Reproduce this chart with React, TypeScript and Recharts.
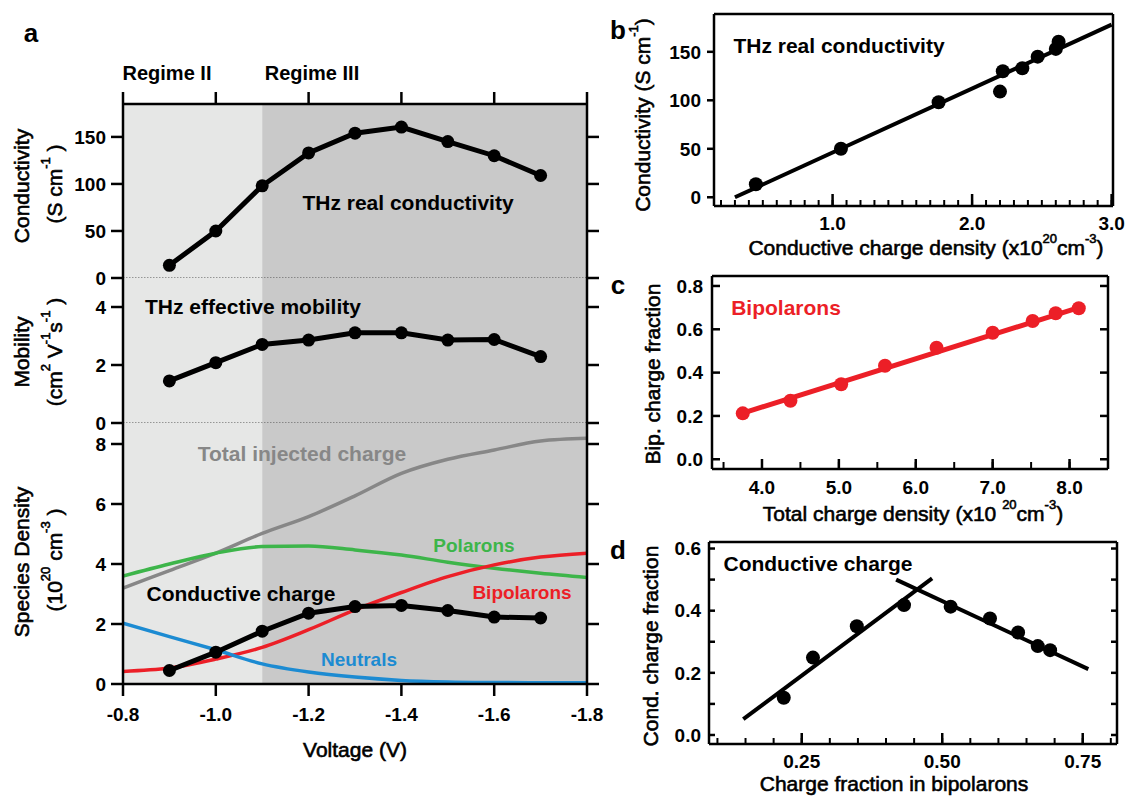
import React from 'react';
import {
  ComposedChart,
  Line,
  Scatter,
  XAxis,
  YAxis,
  ReferenceArea,
  ReferenceLine,
} from 'recharts';

const W = 1129;
const H = 796;
const FONT = '"Liberation Sans", Arial, Helvetica, sans-serif';

// ---- panel a: voltage sweep ----
const voltages = [-0.8, -0.9, -1.0, -1.1, -1.2, -1.3, -1.4, -1.5, -1.6, -1.7, -1.8];
const measuredVoltages = [-0.9, -1.0, -1.1, -1.2, -1.3, -1.4, -1.5, -1.6, -1.7];
const conductivity = [13.5, 50, 98, 133, 154, 160.5, 145, 130, 109];
const mobility = [1.45, 2.08, 2.71, 2.86, 3.11, 3.11, 2.86, 2.88, 2.29];
const conductiveCharge = [0.45, 1.06, 1.76, 2.36, 2.58, 2.62, 2.45, 2.23, 2.2];
const totalCharge = [3.2, 3.78, 4.36, 5.02, 5.58, 6.27, 7.02, 7.49, 7.8, 8.1, 8.19];
const polarons = [3.6, 4.0, 4.36, 4.58, 4.6, 4.47, 4.3, 4.06, 3.86, 3.69, 3.55];
const bipolarons = [0.42, 0.53, 0.83, 1.22, 1.81, 2.47, 3.05, 3.58, 3.97, 4.23, 4.36];
const neutrals = [2.03, 1.58, 1.14, 0.67, 0.4, 0.23, 0.12, 0.07, 0.05, 0.04, 0.04];
const regimeEdges = [-0.8, -1.1, -1.8];
const voltageTicks = [-0.8, -1.0, -1.2, -1.4, -1.6, -1.8];
const conductivityTicks = [0, 50, 100, 150];
const mobilityTicks = [0, 2, 4];
const speciesTicks = [0, 2, 4, 6, 8];

// ---- panel b: conductivity vs conductive charge ----
const bChargeDensity = [0.45, 1.06, 1.76, 2.2, 2.22, 2.36, 2.47, 2.6, 2.62];
const bConductivity = [13.5, 50, 98, 109, 130, 133, 145, 153, 160.5];
const bFitDensity = [0.3, 3.0];
const bFitConductivity = [0, 178];
const bTicksX = [1, 2, 3];
const bTicksY = [0, 50, 100, 150];

// ---- panel c: bipolaron fraction vs total charge ----
const cTotalDensity = [3.75, 4.37, 5.03, 5.6, 6.27, 7.0, 7.52, 7.82, 8.12];
const cBipFraction = [0.212, 0.27, 0.346, 0.432, 0.515, 0.584, 0.638, 0.674, 0.697];
const cFitDensity = [3.75, 8.12];
const cFitFraction = [0.213, 0.7];
const cTicksX = [4, 5, 6, 7, 8];
const cTicksY = [0, 0.2, 0.4, 0.6, 0.8];

// ---- panel d: conductive fraction vs bipolaron fraction ----
const dBipFraction = [0.218, 0.27, 0.348, 0.432, 0.515, 0.585, 0.635, 0.67, 0.692];
const dCondFraction = [0.12, 0.249, 0.35, 0.418, 0.413, 0.375, 0.33, 0.286, 0.273];
const dRiseX = [0.146, 0.482];
const dRiseY = [0.051, 0.504];
const dFallX = [0.418, 0.76];
const dFallY = [0.5, 0.212];
const dTicksX = [0.25, 0.5, 0.75];
const dTicksY = [0, 0.2, 0.4, 0.6];

const steps = (from: number, to: number, step: number) => {
  const out: number[] = [];
  for (let v = from; v <= to + step / 2; v += step) out.push(Math.round(v * 1000) / 1000);
  return out;
};

const measuredRows = measuredVoltages.map((v, i) => ({
  v,
  conductivity: conductivity[i],
  mobility: mobility[i],
  conductive: conductiveCharge[i],
}));
const speciesRows = voltages.map((v, i) => ({
  v,
  total: totalCharge[i],
  polarons: polarons[i],
  bipolarons: bipolarons[i],
  neutrals: neutrals[i],
}));
const pairs = (xs: number[], ys: number[]) => xs.map((x, i) => ({ x, y: ys[i] }));

// styles
const LIGHT = '#e6e7e6';
const DARK = '#c9c9c9';
const GRAY = '#878787';
const GREEN = '#3db54a';
const RED = '#ec1f27';
const BLUE = '#1c8bd2';
const axisLine = { stroke: '#000', strokeWidth: 2.5 };
const tickLine = { stroke: '#000', strokeWidth: 2.5 };
const tickText = { fill: '#000', fontSize: 19, fontWeight: 700, fontFamily: FONT };
const blackDot = { r: 6.5, fill: '#000', stroke: '#000', strokeWidth: 0 };
const fix1 = (v: number) => v.toFixed(1);
const fix2 = (v: number) => v.toFixed(2);
const noLabel = () => '';

// plot rectangles of the small panels, in page pixels
type Rect = { l: number; t: number; r: number; b: number };
type Dom = { x: number[]; y: number[] };
const rectB: Rect = { l: 714, t: 14, r: 1113, b: 206 };
const rectC: Rect = { l: 712, t: 276, r: 1108, b: 469 };
const rectD: Rect = { l: 709, t: 542, r: 1117, b: 744 };
const domB: Dom = { x: [0.15, 3.01], y: [-9, 189] };
const domC: Dom = { x: [3.35, 8.5], y: [-0.045, 0.846] };
const domD: Dom = { x: [0.085, 0.811], y: [-0.029, 0.621] };

const frameMargin = (rect: Rect) => ({ left: rect.l - 60, right: W - rect.r, top: rect.t - 1, bottom: H - rect.b - 40 });

// inward tick marks as short reference segments; length given in pixels
const inTicks = (rect: Rect, dom: Dom, side: 'bottom' | 'left' | 'right', values: number[], len: number, width = 2.5) => {
  const dx = (len * (dom.x[1] - dom.x[0])) / (rect.r - rect.l);
  const dy = (len * (dom.y[1] - dom.y[0])) / (rect.b - rect.t);
  return values.map((v) => {
    const seg =
      side === 'bottom'
        ? [{ x: v, y: dom.y[0] }, { x: v, y: dom.y[0] + dy }]
        : side === 'left'
          ? [{ x: dom.x[0], y: v }, { x: dom.x[0] + dx, y: v }]
          : [{ x: dom.x[1], y: v }, { x: dom.x[1] - dx, y: v }];
    return <ReferenceLine key={`${side}-${v}-${len}`} segment={seg} stroke="#000" strokeWidth={width} ifOverflow="visible" />;
  });
};

const dotShape = (color: string, r: number) => (p: any) =>
  <circle cx={p.cx} cy={p.cy} r={r} fill={color} />;

const Layer: React.FC<{ children: React.ReactNode }> = ({ children }) => (
  <div style={{ position: 'absolute', left: 0, top: 0 }}>{children}</div>
);

const shading = [
  <ReferenceArea key="r2" x1={regimeEdges[0]} x2={regimeEdges[1]} fill={LIGHT} fillOpacity={1} stroke="none" />,
  <ReferenceArea key="r3" x1={regimeEdges[1]} x2={regimeEdges[2]} fill={DARK} fillOpacity={1} stroke="none" />,
];

const ConductivityPanel = () => (
  <ComposedChart width={W} height={H} data={measuredRows} margin={{ left: 63, right: 522, top: 84, bottom: 518 }}>
    <XAxis dataKey="v" type="number" domain={[-1.8, -0.8]} reversed allowDataOverflow orientation="top" height={20}
      ticks={voltageTicks} interval={0} tickFormatter={noLabel} tickSize={12} axisLine={axisLine} tickLine={tickLine} />
    <YAxis type="number" domain={[0, 185]} allowDataOverflow ticks={conductivityTicks} interval={0} width={60}
      tickSize={12} tickMargin={5} tick={tickText} axisLine={axisLine} tickLine={tickLine} />
    <YAxis yAxisId="right" orientation="right" type="number" domain={[0, 185]} allowDataOverflow ticks={conductivityTicks}
      interval={0} width={20} tickSize={12} tickFormatter={noLabel} axisLine={axisLine} tickLine={tickLine} />
    {shading}
    <ReferenceLine y={0} stroke="#444" strokeWidth={1} strokeDasharray="1.5 1.5" />
    <Line dataKey="conductivity" stroke="#000" strokeWidth={5} dot={blackDot} isAnimationActive={false} />
  </ComposedChart>
);

const MobilityPanel = () => (
  <ComposedChart width={W} height={H} data={measuredRows} margin={{ left: 63, right: 522, top: 278, bottom: 373 }}>
    <XAxis dataKey="v" type="number" domain={[-1.8, -0.8]} reversed allowDataOverflow hide />
    <YAxis type="number" domain={[0, 5]} allowDataOverflow ticks={mobilityTicks} interval={0} width={60}
      tickSize={12} tickMargin={5} tick={tickText} axisLine={axisLine} tickLine={tickLine} />
    <YAxis yAxisId="right" orientation="right" type="number" domain={[0, 5]} allowDataOverflow ticks={mobilityTicks}
      interval={0} width={20} tickSize={12} tickFormatter={noLabel} axisLine={axisLine} tickLine={tickLine} />
    {shading}
    <ReferenceLine y={0} stroke="#444" strokeWidth={1} strokeDasharray="1.5 1.5" />
    <Line dataKey="mobility" stroke="#000" strokeWidth={5} dot={blackDot} isAnimationActive={false} />
  </ComposedChart>
);

const SpeciesPanel = () => (
  <ComposedChart width={W} height={H} data={speciesRows} margin={{ left: 63, right: 522, top: 423, bottom: 72 }}>
    <XAxis dataKey="v" type="number" domain={[-1.8, -0.8]} reversed allowDataOverflow height={40}
      ticks={voltageTicks} interval={0} tickFormatter={fix1} tickSize={12} tickMargin={12}
      tick={tickText} axisLine={axisLine} tickLine={tickLine} />
    <YAxis type="number" domain={[0, 8.7]} allowDataOverflow ticks={speciesTicks} interval={0} width={60}
      tickSize={12} tickMargin={5} tick={tickText} axisLine={axisLine} tickLine={tickLine} />
    <YAxis yAxisId="right" orientation="right" type="number" domain={[0, 8.7]} allowDataOverflow ticks={speciesTicks}
      interval={0} width={20} tickSize={12} tickFormatter={noLabel} axisLine={axisLine} tickLine={tickLine} />
    {shading}
    <Line type="monotone" dataKey="total" stroke={GRAY} strokeWidth={3.5} dot={false} isAnimationActive={false} />
    <Line type="monotone" dataKey="polarons" stroke={GREEN} strokeWidth={3.5} dot={false} isAnimationActive={false} />
    <Line type="monotone" dataKey="bipolarons" stroke={RED} strokeWidth={3.5} dot={false} isAnimationActive={false} />
    <Line type="monotone" dataKey="neutrals" stroke={BLUE} strokeWidth={3.5} dot={false} isAnimationActive={false} />
    <Line data={measuredRows} dataKey="conductive" stroke="#000" strokeWidth={5} dot={blackDot} isAnimationActive={false} />
  </ComposedChart>
);

const PanelB = () => (
  <ComposedChart width={W} height={H} margin={frameMargin(rectB)}>
    <XAxis dataKey="x" type="number" domain={domB.x} allowDataOverflow height={40} ticks={bTicksX}
      interval={0} tickFormatter={fix1} tickSize={0} tickMargin={11} tickLine={false} axisLine={axisLine} tick={tickText} />
    <XAxis xAxisId="top" orientation="top" type="number" domain={domB.x} allowDataOverflow height={1}
      tick={false} tickLine={false} axisLine={axisLine} />
    <YAxis dataKey="y" type="number" domain={domB.y} allowDataOverflow ticks={bTicksY} interval={0} width={60}
      tickSize={7} tickMargin={6} tick={tickText} axisLine={axisLine} tickLine={tickLine} />
    <YAxis yAxisId="right" orientation="right" mirror type="number" domain={domB.y} allowDataOverflow width={1}
      tick={false} tickLine={false} axisLine={axisLine} />
    {inTicks(rectB, domB, 'bottom', steps(0.2, 3.0, 0.1), 6, 2)}
    {inTicks(rectB, domB, 'bottom', bTicksX, 12)}
    <Line data={pairs(bFitDensity, bFitConductivity)} dataKey="y" stroke="#000" strokeWidth={4} dot={false} isAnimationActive={false} />
    <Scatter data={pairs(bChargeDensity, bConductivity)} dataKey="y" shape={dotShape('#000', 7)} isAnimationActive={false} />
  </ComposedChart>
);

const PanelC = () => (
  <ComposedChart width={W} height={H} margin={frameMargin(rectC)}>
    <XAxis dataKey="x" type="number" domain={domC.x} allowDataOverflow height={40} ticks={cTicksX}
      interval={0} tickFormatter={fix1} tickSize={0} tickMargin={12} tickLine={false} axisLine={axisLine} tick={tickText} />
    <XAxis xAxisId="top" orientation="top" type="number" domain={domC.x} allowDataOverflow height={1}
      tick={false} tickLine={false} axisLine={axisLine} />
    <YAxis dataKey="y" type="number" domain={domC.y} allowDataOverflow ticks={cTicksY} interval={0} width={60}
      tickFormatter={fix1} tickSize={0} tickMargin={9} tickLine={false} axisLine={axisLine} tick={tickText} />
    <YAxis yAxisId="right" orientation="right" mirror type="number" domain={domC.y} allowDataOverflow width={1}
      tick={false} tickLine={false} axisLine={axisLine} />
    {inTicks(rectC, domC, 'bottom', steps(3.5, 8.5, 0.5), 7, 2)}
    {inTicks(rectC, domC, 'bottom', cTicksX, 10)}
    {inTicks(rectC, domC, 'left', cTicksY, 8)}
    {inTicks(rectC, domC, 'right', cTicksY, 8)}
    <Line data={pairs(cFitDensity, cFitFraction)} dataKey="y" stroke={RED} strokeWidth={5} dot={false} isAnimationActive={false} />
    <Scatter data={pairs(cTotalDensity, cBipFraction)} dataKey="y" shape={dotShape(RED, 7)} isAnimationActive={false} />
  </ComposedChart>
);

const PanelD = () => (
  <ComposedChart width={W} height={H} margin={frameMargin(rectD)}>
    <XAxis dataKey="x" type="number" domain={domD.x} allowDataOverflow height={40} ticks={dTicksX}
      interval={0} tickFormatter={fix2} tickSize={0} tickMargin={11} tickLine={false} axisLine={axisLine} tick={tickText} />
    <XAxis xAxisId="top" orientation="top" type="number" domain={domD.x} allowDataOverflow height={1}
      tick={false} tickLine={false} axisLine={axisLine} />
    <YAxis dataKey="y" type="number" domain={domD.y} allowDataOverflow ticks={dTicksY} interval={0}
      width={60} tickFormatter={fix1} tickSize={0} tickMargin={8} tickLine={false} axisLine={axisLine} tick={tickText} />
    <YAxis yAxisId="right" orientation="right" mirror type="number" domain={domD.y} allowDataOverflow width={1}
      tick={false} tickLine={false} axisLine={axisLine} />
    {inTicks(rectD, domD, 'bottom', steps(0.1, 0.8, 0.05), 6, 2)}
    {inTicks(rectD, domD, 'bottom', dTicksX, 11)}
    {inTicks(rectD, domD, 'left', steps(0, 0.6, 0.1), 6)}
    {inTicks(rectD, domD, 'right', steps(0, 0.6, 0.1), 6)}
    <Line data={pairs(dRiseX, dRiseY)} dataKey="y" stroke="#000" strokeWidth={4} dot={false} isAnimationActive={false} />
    <Line data={pairs(dFallX, dFallY)} dataKey="y" stroke="#000" strokeWidth={4} dot={false} isAnimationActive={false} />
    <Scatter data={pairs(dBipFraction, dCondFraction)} dataKey="y" shape={dotShape('#000', 7)} isAnimationActive={false} />
  </ComposedChart>
);

type TxtProps = {
  x: number;
  y: number;
  size?: number;
  bold?: boolean;
  color?: string;
  rotate?: boolean;
  children: React.ReactNode;
};

const Txt = ({ x, y, size = 21, bold = false, color = '#000', rotate = false, children }: TxtProps) => (
  <text
    x={rotate ? 0 : x}
    y={rotate ? 0 : y}
    transform={rotate ? `translate(${x},${y}) rotate(-90)` : undefined}
    textAnchor="middle"
    dominantBaseline="central"
    fontFamily={FONT}
    fontSize={size}
    fontWeight={bold ? 700 : 400}
    fill={color}
    stroke={bold ? 'none' : color}
    strokeWidth={bold ? 0 : 0.6}
  >
    {children}
  </text>
);

const Sup = ({ children, after }: { children: React.ReactNode; after: string }) => (
  <>
    <tspan dy={-9} fontSize={13}>{children}</tspan>
    <tspan dy={9}>{after}</tspan>
  </>
);

const Annotations = () => (
  <svg width={W} height={H} style={{ position: 'absolute', left: 0, top: 0, pointerEvents: 'none' }}>
    {/* panel letters */}
    <Txt x={31} y={33} size={26} bold>a</Txt>
    <Txt x={618} y={30} size={26} bold>b</Txt>
    <Txt x={618} y={285} size={26} bold>c</Txt>
    <Txt x={618} y={550} size={26} bold>d</Txt>

    {/* panel a */}
    <Txt x={167} y={73} size={20} bold>Regime II</Txt>
    <Txt x={312} y={73} size={20} bold>Regime III</Txt>
    <Txt x={408} y={202} bold>THz real conductivity</Txt>
    <Txt x={253} y={306} bold>THz effective mobility</Txt>
    <Txt x={302} y={453} bold color={GRAY}>Total injected charge</Txt>
    <Txt x={474} y={545} size={19} bold color={GREEN}>Polarons</Txt>
    <Txt x={241} y={593} bold>Conductive charge</Txt>
    <Txt x={522} y={592} size={19} bold color={RED}>Bipolarons</Txt>
    <Txt x={359} y={659} size={19} bold color={BLUE}>Neutrals</Txt>

    <Txt x={21} y={186} rotate>Conductivity</Txt>
    <Txt x={54} y={184} rotate>(S cm<Sup after=" )">-1</Sup></Txt>
    <Txt x={21} y={352} rotate>Mobility</Txt>
    <Txt x={54} y={352} rotate>(cm<Sup after=" V">2</Sup><Sup after="s">-1</Sup><Sup after=" )">-1</Sup></Txt>
    <Txt x={21} y={562} rotate>Species Density</Txt>
    <Txt x={54} y={560} rotate>(10<Sup after=" cm">20</Sup><Sup after=" )">-3</Sup></Txt>
    <Txt x={355} y={749}>Voltage (V)</Txt>

    {/* panel b */}
    <Txt x={839} y={45} bold>THz real conductivity</Txt>
    <Txt x={642} y={115} rotate>Conductivity (S cm<Sup after=")">-1</Sup></Txt>
    <Txt x={926} y={247}>Conductive charge density (x10<Sup after="cm">20</Sup><Sup after=")">-3</Sup></Txt>

    {/* panel c */}
    <Txt x={786} y={307} bold color={RED}>Bipolarons</Txt>
    <Txt x={652} y={374} rotate>Bip. charge fraction</Txt>
    <Txt x={913} y={513}>Total charge density (x10 <Sup after="cm">20</Sup><Sup after=")">-3</Sup></Txt>

    {/* panel d */}
    <Txt x={818} y={563} bold>Conductive charge</Txt>
    <Txt x={650} y={646} rotate>Cond. charge fraction</Txt>
    <Txt x={894} y={783}>Charge fraction in bipolarons</Txt>
  </svg>
);

export default function App() {
  return (
    <div style={{ position: 'absolute', left: 0, top: 0, width: W, height: H, background: '#fff', overflow: 'hidden' }}>
      <Layer><ConductivityPanel /></Layer>
      <Layer><MobilityPanel /></Layer>
      <Layer><SpeciesPanel /></Layer>
      <Layer><PanelB /></Layer>
      <Layer><PanelC /></Layer>
      <Layer><PanelD /></Layer>
      <Annotations />
    </div>
  );
}
